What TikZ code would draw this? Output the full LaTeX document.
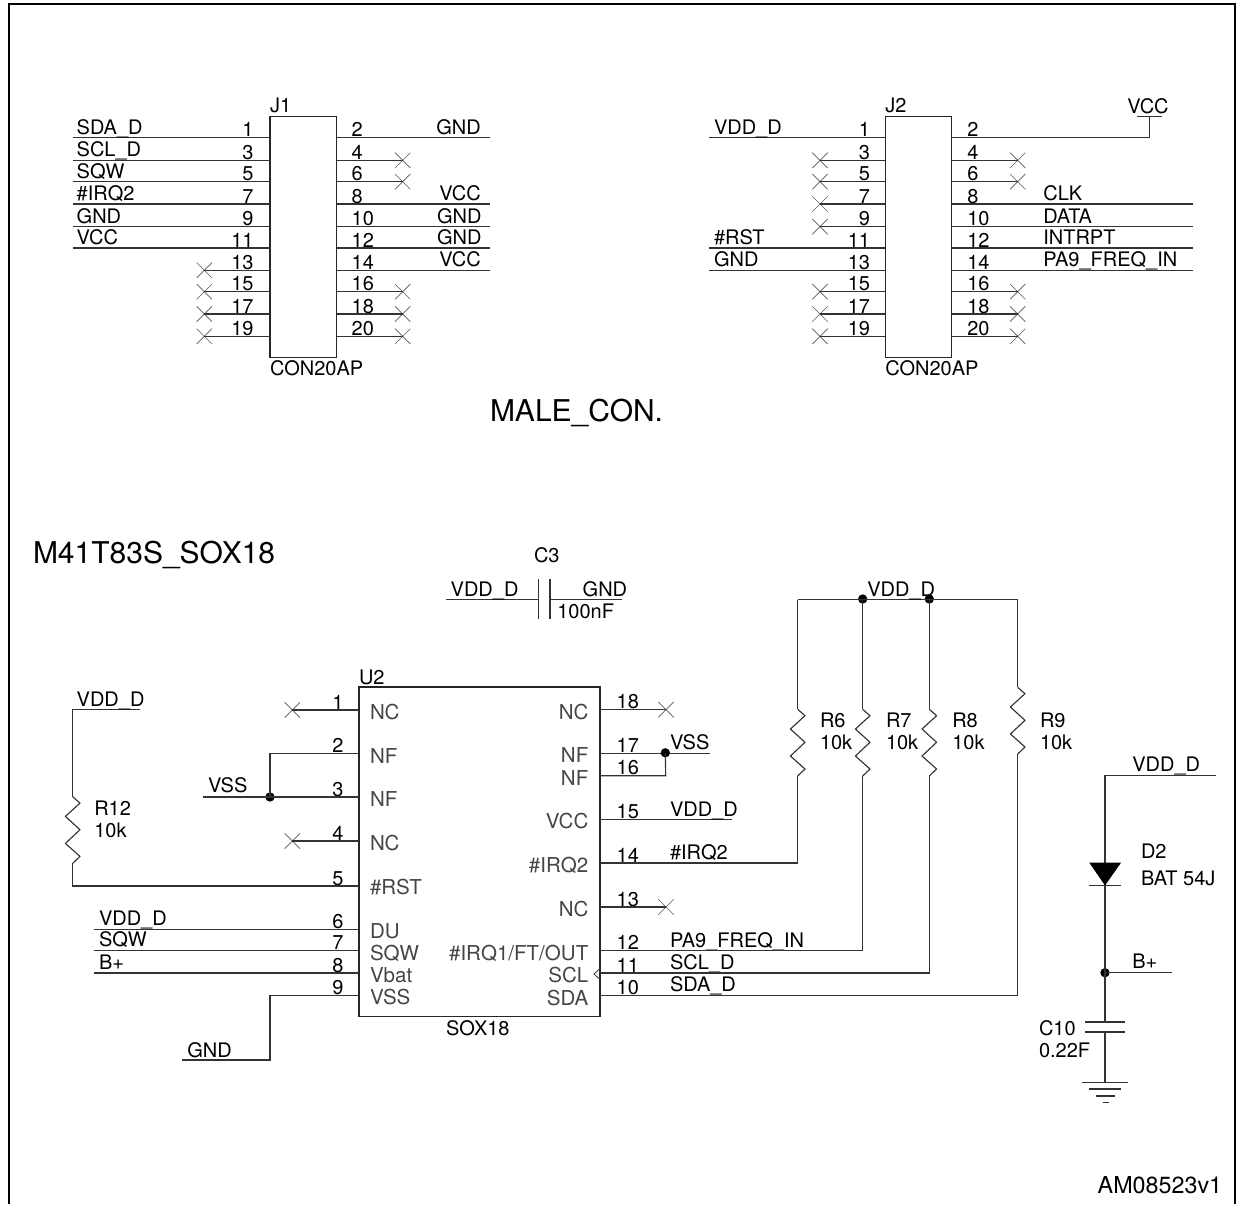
\documentclass[tikz,border=0pt]{standalone}
\usepackage{fontspec}
\setmainfont{TeX Gyre Heros}
\usetikzlibrary{shapes.misc}
\definecolor{wirec}{gray}{0.2}
\definecolor{pinc}{gray}{0.27}
\newcounter{tx}
\tikzset{
  x=0.75pt,y=-0.75pt,
  wire/.style={draw=wirec,line width=0.85pt,line join=miter},
  frameline/.style={draw=black,line width=1.5pt},
  chip/.style={draw=black!85,line width=1pt,fill=none,inner sep=0pt,rectangle},
  ncx/.style={cross out,draw=black!65,line width=0.5pt,minimum size=11pt,inner sep=0pt},
  lbl/.style={inner sep=0pt,outer sep=0pt,font=\fontsize{15}{17}\selectfont,anchor=base west},
  pinname/.style={lbl,font=\fontsize{15.4}{17}\selectfont,text=pinc},
  big/.style={lbl,font=\fontsize{22.5}{24}\selectfont},
  junction/.style={circle,fill=black,inner sep=0pt,minimum size=7pt},
}
\newcommand{\tL}[4][lbl]{\stepcounter{tx}\node[#1] (tx\arabic{tx}) at (#2,#3) {#4};}
\newcommand{\tR}[4][lbl]{\stepcounter{tx}\node[#1,anchor=base east] (tx\arabic{tx}) at (#2,#3) {#4};}
\newcommand{\pinwire}[4]{\coordinate (#1a) at (#2,#4);\coordinate (#1b) at (#3,#4);\draw[wire] (#1a) -- (#1b);}
\newcommand{\pinnc}[4]{\coordinate (#1a) at (#2,#4);\node[ncx] (#1b) at (#3,#4) {};\draw[wire] (#1a) -- (#1b.center);}
\newcommand{\resistor}[3]{\coordinate (#1t) at (#2,#3);\coordinate (#1b) at (#2,#3+66.7);
  \draw[wire,line join=round] (#1t) -- ++(7.3,6.4) -- ++(-14.6,13.3) -- ++(14.6,13.3) -- ++(-14.6,13.7) -- ++(14.6,13) -- (#1b);}
\begin{document}
\begin{tikzpicture}
\useasboundingbox (0,0) rectangle (1236,1204);
% frame
\coordinate (fa) at (9,1204);\coordinate (fb) at (9,4.3);\coordinate (fc) at (1234.5,4.3);\coordinate (fd) at (1234.5,1204);
\draw[frameline] (fa) -- (fb) -- (fc) -- (fd);
% J1
\node[chip,minimum width=49.8pt,minimum height=180.8pt] (J1) at (303.35,237.2) {};
\tL{270}{112.7}{J1}\tL{270}{375}{CON20AP}
\foreach \n/\y in {1/137.7,3/160.3,5/181.7,7/204,9/226.7,11/248}{\pinwire{jal\n}{270}{72.7}{\y}\tR{253.5}{\y-1}{\n}}
\foreach \n/\y in {13/270.3,15/291.7,17/314,19/336.3}{\pinnc{jal\n}{270}{204.3}{\y}\tR{253.5}{\y-1}{\n}}
\foreach \n/\y in {2/137.7,8/204,10/226.7,12/248,14/270.3}{\pinwire{jar\n}{336.7}{490}{\y}\tL{351.7}{\y-1}{\n}}
\foreach \n/\y in {4/160.3,6/181.7,16/291.7,18/314,20/336.3}{\pinnc{jar\n}{336.7}{402.7}{\y}\tL{351.7}{\y-1}{\n}}
\tL{76.7}{134}{SDA\_D}\tL{76.7}{156.5}{SCL\_D}\tL{76.7}{178}{SQW}\tL{76.7}{200}{\#IRQ2}\tL{76.7}{223}{GND}\tL{76.7}{244.5}{VCC}
\tR{480.7}{134}{GND}\tR{480.7}{200.5}{VCC}\tR{481.5}{223}{GND}\tR{481.5}{244.5}{GND}\tR{480.7}{266.5}{VCC}
% J2
\node[chip,minimum width=49.8pt,minimum height=180.8pt] (J2) at (918.5,237.2) {};
\tL{885.3}{112.7}{J2}\tL{885.3}{375}{CON20AP}
\foreach \n/\y in {1/137.7,11/248,13/270.3}{\pinwire{jbl\n}{885.3}{709.3}{\y}\tR{870}{\y-1}{\n}}
\foreach \n/\y in {3/160.3,5/181.7,7/204,9/226.7,15/291.7,17/314,19/336.3}{\pinnc{jbl\n}{885.3}{820}{\y}\tR{870}{\y-1}{\n}}
\foreach \n/\y in {8/204,10/226.7,12/248,14/270.3}{\pinwire{jbr\n}{951.7}{1192.7}{\y}\tL{967.3}{\y-1}{\n}}
\foreach \n/\y in {4/160.3,6/181.7,16/291.7,18/314,20/336.3}{\pinnc{jbr\n}{951.7}{1017.7}{\y}\tL{967.3}{\y-1}{\n}}
\tL{967.3}{136.7}{2}
\coordinate (vcca) at (951.7,137.7);\coordinate (vccb) at (1149.3,137.7);\coordinate (vccc) at (1149.3,116.7);
\coordinate (vccl) at (1137.3,116.7);\coordinate (vccr) at (1161.7,116.7);
\draw[wire] (vcca) -- (vccb) -- (vccc);\draw[wire] (vccl) -- (vccr);
\tL{1127.3}{113.3}{VCC}
\tL{714}{134}{VDD\_D}\tL{714}{244.5}{\#RST}\tL{714}{266.5}{GND}
\tL{1043.3}{200.5}{CLK}\tL{1043.3}{223}{DATA}\tL{1043.3}{244.5}{INTRPT}\tL{1043.3}{266.5}{PA9\_FREQ\_IN}
% big titles
\tL[big]{490}{421}{MALE\_CON.}
\tL[big]{33}{563}{M41T83S\_SOX18}
% C3
\coordinate (c3l) at (446,599.7);\coordinate (c3a) at (538.7,599.7);\coordinate (c3b) at (550,599.7);\coordinate (c3r) at (622.3,599.7);
\coordinate (c3at) at (538.7,579.3);\coordinate (c3ab) at (538.7,619.3);\coordinate (c3bt) at (550,579.3);\coordinate (c3bb) at (550,619.3);
\draw[wire] (c3l) -- (c3a);\draw[wire] (c3b) -- (c3r);\draw[wire] (c3at) -- (c3ab);\draw[wire] (c3bt) -- (c3bb);
\tL{534}{562.7}{C3}\tL{450.7}{596}{VDD\_D}\tL{582.7}{596}{GND}\tL{557.3}{618.3}{100nF}
% U2
\node[chip,minimum width=180.75pt,minimum height=247.3pt] (U2) at (479.5,851.85) {};
\tL{359}{684}{U2}\tL{446}{1035}{SOX18}
\foreach \n/\y in {1/710,2/753.3,3/797,4/841,5/886,6/929.3,7/950.7,8/973,9/995.3}{\tR{343.5}{\y-1}{\n}}
\foreach \n/\y in {18/709.7,17/753.3,16/775.7,15/819.7,14/863,13/907,12/950.3,11/973,10/995.7}{\tL{616.7}{\y-1}{\n}}
\tL[pinname]{370}{719.3}{NC}\tL[pinname]{370}{763}{NF}\tL[pinname]{370}{806}{NF}\tL[pinname]{370}{850}{NC}
\tL[pinname]{370}{894}{\#RST}\tL[pinname]{370}{938.7}{DU}\tL[pinname]{370}{960}{SQW}\tL[pinname]{370}{982}{Vbat}\tL[pinname]{370}{1004.7}{VSS}
\tR[pinname]{588.3}{719}{NC}\tR[pinname]{588.3}{762.7}{NF}\tR[pinname]{588.3}{785}{NF}\tR[pinname]{588.3}{828.7}{VCC}
\tR[pinname]{588.3}{872.7}{\#IRQ2}\tR[pinname]{588.3}{916}{NC}\tR[pinname]{588.3}{960}{\#IRQ1/FT/OUT}\tR[pinname]{588.3}{982.3}{SCL}\tR[pinname]{588.3}{1005}{SDA}
% left pins
\pinnc{ul1}{359}{292.3}{710}\pinnc{ul4}{359}{292.3}{841}
\coordinate (ul2a) at (359,753.3);\coordinate (ul2b) at (270,753.3);\node[junction] (vssj) at (270,797) {};
\draw[wire] (ul2a) -- (ul2b) -- (vssj.center);
\coordinate (ul3a) at (359,797);\coordinate (vssl) at (203.3,797);\draw[wire] (ul3a) -- (vssl);
\tL{208}{792.7}{VSS}
\resistor{R12}{72.7}{796.7}
\coordinate (r12top) at (72.7,709.3);\coordinate (r12e) at (140,709.3);\coordinate (r12c) at (72.7,886);\coordinate (ul5a) at (359,886);
\draw[wire] (r12e) -- (r12top) -- (R12t);\draw[wire] (R12b) -- (r12c) -- (ul5a);
\tL{76.7}{706}{VDD\_D}\tL{94.3}{815.7}{R12}\tL{94.3}{837.7}{10k}
\pinwire{ul6}{359}{94.3}{929.3}\pinwire{ul7}{359}{94.3}{950.7}\pinwire{ul8}{359}{94.3}{973}
\tL{99}{925}{VDD\_D}\tL{99}{946.7}{SQW}\tL{99}{969}{B+}
\coordinate (ul9a) at (359,995.3);\coordinate (ul9b) at (270,995.3);\coordinate (ul9c) at (270,1060);\coordinate (ul9d) at (182.3,1060);
\draw[wire] (ul9a) -- (ul9b) -- (ul9c) -- (ul9d);
\tL{187.3}{1057.3}{GND}
% right pins
\pinnc{ur18}{600}{666}{709.7}\pinnc{ur13}{600}{666}{907}
\pinwire{ur17}{600}{710}{753.3}
\node[junction] (vssr) at (665.3,752.8) {};
\coordinate (ur16a) at (600,775.7);\coordinate (ur16b) at (665.7,775.7);
\draw[wire] (ur16a) -- (ur16b) -- (vssr.center);
\tL{670}{749.3}{VSS}
\pinwire{ur15}{600}{732.3}{819.7}
\tL{670}{816}{VDD\_D}\tL{670}{859}{\#IRQ2}\tL{670}{947}{PA9\_FREQ\_IN}\tL{670}{969}{SCL\_D}\tL{670}{991.7}{SDA\_D}
% clock mark
\coordinate (clka) at (600,968.5);\coordinate (clkb) at (594,974);\coordinate (clkc) at (600,979.5);
\draw[wire,line width=0.6pt] (clka) -- (clkb) -- (clkc);
% pull-ups
\coordinate (busl) at (797.7,599.7);\coordinate (busr) at (1017.7,599.7);
\node[junction] (j7) at (862.7,599) {};\node[junction] (j8) at (929.3,599) {};
\draw[wire] (busl) -- (busr);
\tL{867.3}{596}{VDD\_D}
\resistor{R6}{797.7}{709.3}\resistor{R7}{862.7}{709.3}\resistor{R8}{929.3}{709.3}\resistor{R9}{1017.7}{687.3}
\coordinate (p14a) at (600,863);\coordinate (p14b) at (797.7,863);
\draw[wire] (busl) -- (R6t);\draw[wire] (R6b) -- (p14b) -- (p14a);
\coordinate (p12a) at (600,950.3);\coordinate (p12b) at (862.7,950.3);
\draw[wire] (j7.center) -- (R7t);\draw[wire] (R7b) -- (p12b) -- (p12a);
\coordinate (p11a) at (600,973);\coordinate (p11b) at (929.3,973);
\draw[wire] (j8.center) -- (R8t);\draw[wire] (R8b) -- (p11b) -- (p11a);
\coordinate (p10a) at (600,995.7);\coordinate (p10b) at (1017.7,995.7);
\draw[wire] (busr) -- (R9t);\draw[wire] (R9b) -- (p10b) -- (p10a);
\tL{820}{727.7}{R6}\tL{820}{749}{10k}\tL{886}{727.7}{R7}\tL{886}{749}{10k}\tL{952.3}{727.7}{R8}\tL{952.3}{749}{10k}\tL{1040}{727.7}{R9}\tL{1040}{749}{10k}
% battery branch
\coordinate (vbe) at (1216,775.7);\coordinate (vbc) at (1105,775.7);\coordinate (dtip) at (1105,885.5);
\coordinate (dl) at (1089.3,862.7);\coordinate (dr) at (1121,862.7);\coordinate (dbl) at (1089.3,885.5);\coordinate (dbr) at (1121,885.5);
\draw[wire] (vbe) -- (vbc) -- (dtip);
\fill[black] (dl) -- (dr) -- (dtip) -- cycle;
\draw[wire] (dbl) -- (dbr);
\node[junction] (jb) at (1105,972.7) {};
\coordinate (bpe) at (1171.7,972.7);\draw[wire] (jb.center) -- (bpe);
\coordinate (ctop) at (1105,1022);\coordinate (cbot) at (1105,1032);\coordinate (gnd0) at (1105,1082.7);
\draw[wire] (dtip) -- (ctop);\draw[wire] (cbot) -- (gnd0);
\coordinate (cta) at (1085,1022);\coordinate (ctb) at (1125,1022);\coordinate (cba) at (1085,1032);\coordinate (cbb) at (1125,1032);
\draw[wire,line width=1pt] (cta) -- (ctb);\draw[wire,line width=1pt] (cba) -- (cbb);
\coordinate (g1a) at (1082.3,1082.7);\coordinate (g1b) at (1127.7,1082.7);
\coordinate (g2a) at (1089.3,1089);\coordinate (g2b) at (1120.7,1089);
\coordinate (g3a) at (1096,1096);\coordinate (g3b) at (1115,1096);
\coordinate (g4a) at (1102.7,1102.3);\coordinate (g4b) at (1108.7,1102.3);
\draw[wire] (g1a) -- (g1b);\draw[wire] (g2a) -- (g2b);\draw[wire] (g3a) -- (g3b);\draw[wire] (g4a) -- (g4b);
\tL{1132.3}{771.7}{VDD\_D}\tL{1132.3}{968.3}{B+}
\tL{1141}{858.3}{D2}\tL{1141}{885.7}{BAT 54J}
\tL{1039}{1035}{C10}\tL{1039}{1057.3}{0.22F}
\stepcounter{tx}\node[lbl,font=\fontsize{17.5}{19}\selectfont] (tx\arabic{tx}) at (1097.7,1193.3) {AM08523v1};
\end{tikzpicture}
\end{document}
